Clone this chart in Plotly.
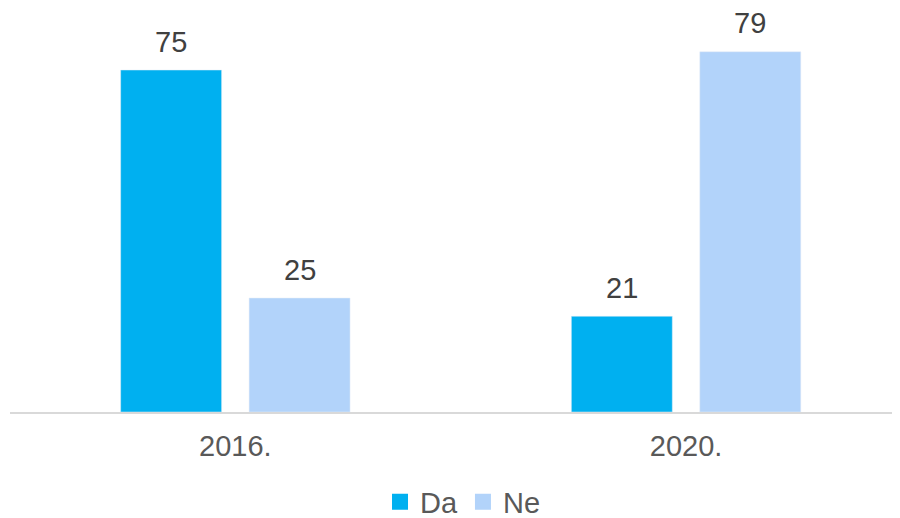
import plotly.graph_objects as go

categories = ["2016.", "2020."]
series_names = ["Da", "Ne"]
da_values = [75, 21]
ne_values = [25, 79]
colors = ["#00B0F0", "#B2D3FA"]

bargap = 0.43
bargroupgap = 0.214
half_slot = (1 - bargap) / 4  # offset of each bar center from category center

fig = go.Figure()
for name, vals, col in zip(series_names, [da_values, ne_values], colors):
    fig.add_trace(go.Bar(name=name, x=categories, y=vals, marker_color=col,
                         showlegend=False, hoverinfo="x+y"))
# legend entries with larger square swatches
for name, col in zip(series_names, colors):
    fig.add_trace(go.Scatter(name=name, x=[None], y=[None], mode="markers",
                             marker=dict(symbol="square", size=16, color=col),
                             showlegend=True))

annotations = []
for si, vals in enumerate([da_values, ne_values]):
    offset = -half_slot if si == 0 else half_slot
    for ci, v in enumerate(vals):
        annotations.append(dict(x=ci + offset, y=v, xref="x", yref="y", text=str(v),
                                showarrow=False, yanchor="middle", yshift=28.5,
                                font=dict(size=29, color="#404040")))

fig.update_layout(
    width=892, height=518,
    margin=dict(l=2, r=0, t=0, b=114, autoexpand=False),
    paper_bgcolor="white", plot_bgcolor="white",
    font=dict(family="Liberation Sans, Arial, sans-serif", color="#595959"),
    barmode="group", bargap=bargap, bargroupgap=bargroupgap,
    showlegend=True,
    legend=dict(orientation="h", x=0.509, xanchor="center", y=-0.2228, yanchor="middle",
                font=dict(size=29, color="#595959"), traceorder="normal",
                itemwidth=30, tracegroupgap=0),
    annotations=annotations,
)
fig.update_xaxes(range=[-0.5, 1.4747], showline=True, linecolor="#D9D9D9", linewidth=1.5,
                 ticks="", tickfont=dict(size=29, color="#595959"), showgrid=False,
                 ticklabelstandoff=7, zeroline=False)
fig.update_yaxes(range=[0, 88.6], visible=False, showgrid=False, zeroline=False)

fig.write_html("out.html")
